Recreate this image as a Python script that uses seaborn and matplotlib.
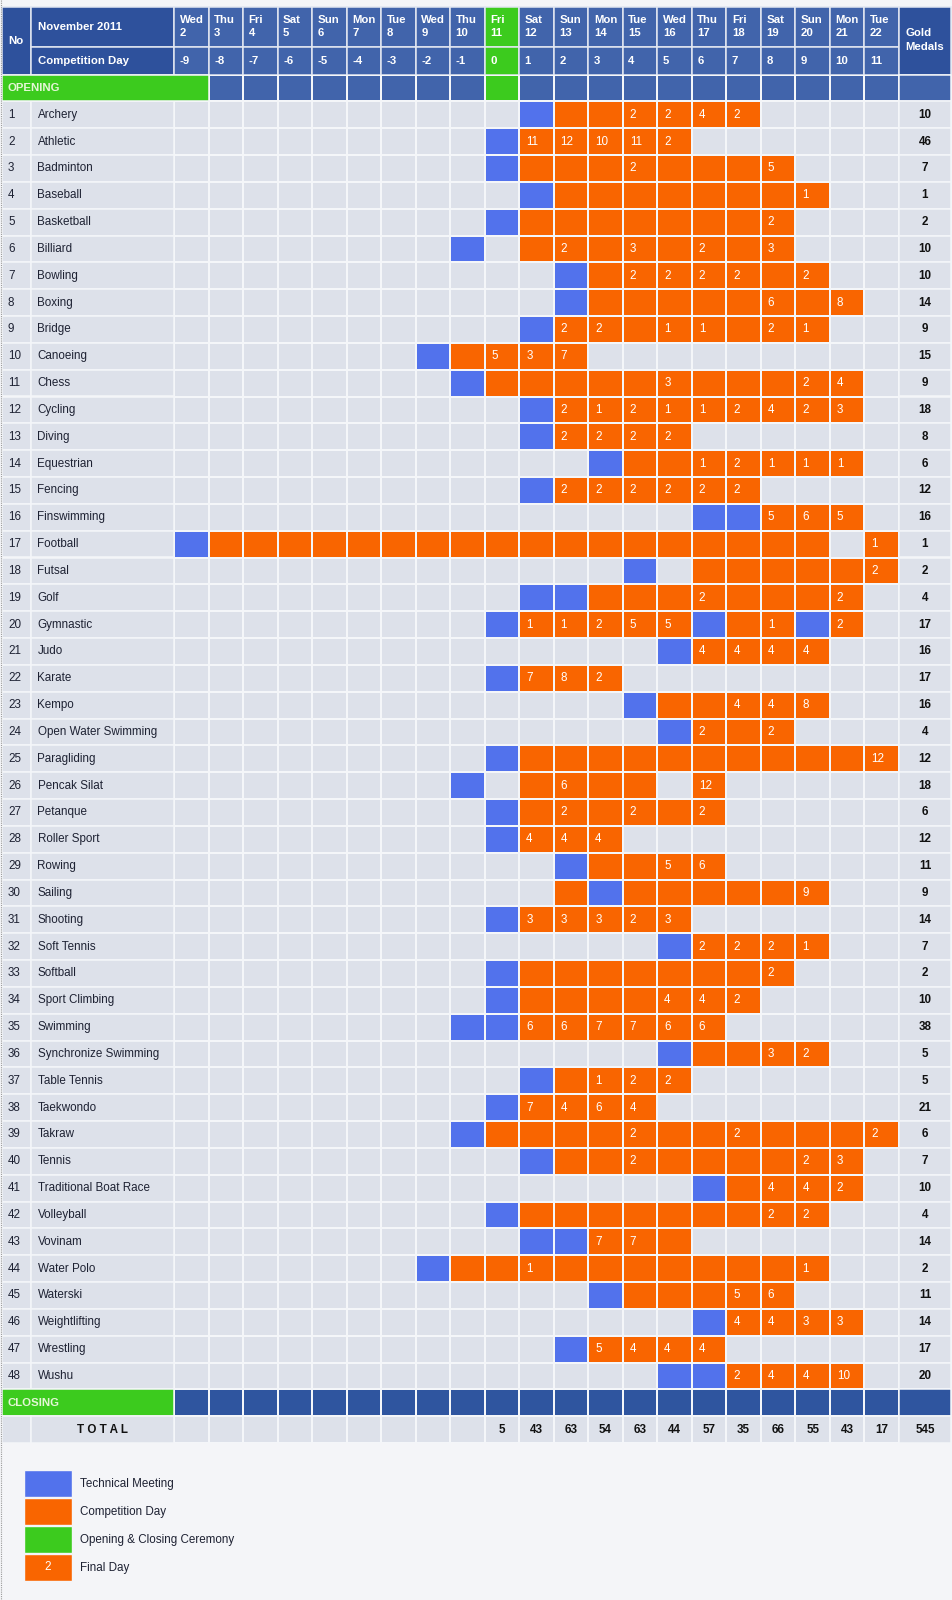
import numpy as np
import matplotlib
matplotlib.use("Agg")
import matplotlib.pyplot as plt
import seaborn as sns
from matplotlib.colors import ListedColormap
from matplotlib.patches import Rectangle

# ---------------- data ----------------
dates = list(range(2, 23))
weekdays = ["Wed", "Thu", "Fri", "Sat", "Sun", "Mon", "Tue", "Wed", "Thu", "Fri", "Sat",
            "Sun", "Mon", "Tue", "Wed", "Thu", "Fri", "Sat", "Sun", "Mon", "Tue"]
competition_day = list(range(-9, 12))
ceremony_date = 11

sports = ["Archery", "Athletic", "Badminton", "Baseball", "Basketball", "Billiard", "Bowling",
          "Boxing", "Bridge", "Canoeing", "Chess", "Cycling", "Diving", "Equestrian", "Fencing",
          "Finswimming", "Football", "Futsal", "Golf", "Gymnastic", "Judo", "Karate", "Kempo",
          "Open Water Swimming", "Paragliding", "Pencak Silat", "Petanque", "Roller Sport",
          "Rowing", "Sailing", "Shooting", "Soft Tennis", "Softball", "Sport Climbing",
          "Swimming", "Synchronize Swimming", "Table Tennis", "Taekwondo", "Takraw", "Tennis",
          "Traditional Boat Race", "Volleyball", "Vovinam", "Water Polo", "Waterski",
          "Weightlifting", "Wrestling", "Wushu"]

gold_medals = [10, 46, 7, 1, 2, 10, 10, 14, 9, 15, 9, 18, 8, 6, 12, 16, 1, 2, 4, 17, 16, 17, 16,
               4, 12, 18, 6, 12, 11, 9, 14, 7, 2, 10, 38, 5, 5, 21, 6, 7, 10, 4, 14, 2, 11, 14,
               17, 20]

technical_days = [[12], [11], [11], [12], [11], [10], [13], [13], [12], [9], [10], [12], [12],
                  [14], [12], [17, 18], [2], [15], [12, 13], [11, 17, 20], [16], [11], [15],
                  [16], [11], [10], [11], [11], [13], [14], [11], [16], [11], [11], [10, 11],
                  [16], [12], [11], [10], [12], [17], [11], [12, 13], [9], [14], [17], [13],
                  [16, 17]]

competition_spans = [[(13, 18)], [(12, 16)], [(12, 19)], [(13, 20)], [(12, 19)], [(12, 19)],
                     [(14, 20)], [(14, 21)], [(13, 20)], [(10, 13)], [(11, 21)], [(13, 21)],
                     [(13, 16)], [(15, 21)], [(13, 18)], [(19, 21)], [(3, 20), (22, 22)],
                     [(17, 22)], [(14, 21)], [(12, 16), (18, 19), (21, 21)], [(17, 20)],
                     [(12, 14)], [(16, 20)], [(17, 19)], [(12, 22)], [(12, 15), (17, 17)],
                     [(12, 17)], [(12, 14)], [(14, 17)], [(13, 13), (15, 20)], [(12, 16)],
                     [(17, 20)], [(12, 19)], [(12, 18)], [(12, 17)], [(17, 20)], [(13, 16)],
                     [(12, 15)], [(11, 22)], [(13, 21)], [(18, 21)], [(12, 20)], [(14, 16)],
                     [(10, 20)], [(15, 19)], [(18, 21)], [(14, 17)], [(18, 21)]]

final_days = [
    {15: 2, 16: 2, 17: 4, 18: 2},
    {12: 11, 13: 12, 14: 10, 15: 11, 16: 2},
    {15: 2, 19: 5},
    {20: 1},
    {19: 2},
    {13: 2, 15: 3, 17: 2, 19: 3},
    {15: 2, 16: 2, 17: 2, 18: 2, 20: 2},
    {19: 6, 21: 8},
    {13: 2, 14: 2, 16: 1, 17: 1, 19: 2, 20: 1},
    {11: 5, 12: 3, 13: 7},
    {16: 3, 20: 2, 21: 4},
    {13: 2, 14: 1, 15: 2, 16: 1, 17: 1, 18: 2, 19: 4, 20: 2, 21: 3},
    {13: 2, 14: 2, 15: 2, 16: 2},
    {17: 1, 18: 2, 19: 1, 20: 1, 21: 1},
    {13: 2, 14: 2, 15: 2, 16: 2, 17: 2, 18: 2},
    {19: 5, 20: 6, 21: 5},
    {22: 1},
    {22: 2},
    {17: 2, 21: 2},
    {12: 1, 13: 1, 14: 2, 15: 5, 16: 5, 19: 1, 21: 2},
    {17: 4, 18: 4, 19: 4, 20: 4},
    {12: 7, 13: 8, 14: 2},
    {18: 4, 19: 4, 20: 8},
    {17: 2, 19: 2},
    {22: 12},
    {13: 6, 17: 12},
    {13: 2, 15: 2, 17: 2},
    {12: 4, 13: 4, 14: 4},
    {16: 5, 17: 6},
    {20: 9},
    {12: 3, 13: 3, 14: 3, 15: 2, 16: 3},
    {17: 2, 18: 2, 19: 2, 20: 1},
    {19: 2},
    {16: 4, 17: 4, 18: 2},
    {12: 6, 13: 6, 14: 7, 15: 7, 16: 6, 17: 6},
    {19: 3, 20: 2},
    {14: 1, 15: 2, 16: 2},
    {12: 7, 13: 4, 14: 6, 15: 4},
    {15: 2, 18: 2, 22: 2},
    {15: 2, 20: 2, 21: 3},
    {19: 4, 20: 4, 21: 2},
    {19: 2, 20: 2},
    {14: 7, 15: 7},
    {12: 1, 20: 1},
    {18: 5, 19: 6},
    {18: 4, 19: 4, 20: 3, 21: 3},
    {14: 5, 15: 4, 16: 4, 17: 4},
    {18: 2, 19: 4, 20: 4, 21: 10},
]

total_dates = [11, 12, 13, 14, 15, 16, 17, 18, 19, 20, 21, 22]
total_values = [5, 43, 63, 54, 63, 44, 57, 35, 66, 55, 43, 17]
grand_total = 545

legend_labels = ["Technical Meeting", "Competition Day", "Opening & Closing Ceremony", "Final Day"]

# ---------------- style ----------------
sns.set_theme(style="white")
plt.rcParams["font.family"] = ["Liberation Sans", "DejaVu Sans"]

C_EMPTY = "#DDE1EA"
C_TECH = "#5272EC"
C_COMP = "#F96500"
C_GREEN = "#3CCB1E"
C_OPEN = "#4164AB"
C_CLOSE = "#2F559F"
C_HEAD = "#2E519C"
C_HDAY = "#4164AB"
C_GRID = "#F4F6F9"
C_HGRID = "#E2E7F1"
TXT = "#1E2233"
FS = 8.4
HFS = 8.2

W, H = 952, 1600
fig = plt.figure(figsize=(W / 100, H / 100), dpi=100, facecolor="#F4F5F8")

# layout (pixels)
x_no, x_name, x_day0, x_day1, x_gold1 = 2, 31, 174, 899, 951
n_days = len(dates)
day_w = (x_day1 - x_day0) / n_days
y_head0, y_head1, y_head2 = 7, 47, 74.5
y_grid1 = 1443
n_rows = len(sports) + 3
pitch = (y_grid1 - y_head2) / n_rows


def row_top(r):
    return y_head2 + r * pitch


def day_x(i):
    return x_day0 + i * day_w


# background axes in pixel coordinates
ax = fig.add_axes([0, 0, 1, 1])
ax.set_xlim(0, W)
ax.set_ylim(H, 0)
ax.axis("off")


def cell(a, x0, x1, y0, y1, fc, ec=C_GRID, lw=1.1, z=1):
    a.add_patch(Rectangle((x0, y0), x1 - x0, y1 - y0, facecolor=fc, edgecolor=ec,
                          linewidth=lw, zorder=z))


def htext(a, x, y, s, ha="left", color="white"):
    a.text(x, y, s, color=color, fontsize=HFS, ha=ha, va="center", fontweight="bold")


# ---- header ----
cell(ax, x_no, x_name, y_head0, y_head2, C_HEAD, C_HGRID)
htext(ax, x_no + 6, (y_head0 + y_head2) / 2, "No")
cell(ax, x_name, x_day0, y_head0, y_head1, C_HEAD, C_HGRID)
cell(ax, x_name, x_day0, y_head1, y_head2, C_HEAD, C_HGRID)
htext(ax, x_name + 6.5, (y_head0 + y_head1) / 2, "November 2011")
htext(ax, x_name + 6.5, (y_head1 + y_head2) / 2, "Competition Day")
for i, (wd, d, cd) in enumerate(zip(weekdays, dates, competition_day)):
    fc = C_GREEN if d == ceremony_date else C_HDAY
    x0, x1 = day_x(i), day_x(i + 1)
    cell(ax, x0, x1, y_head0, y_head1, fc, C_HGRID)
    cell(ax, x0, x1, y_head1, y_head2, fc, C_HGRID)
    htext(ax, x0 + 5.5, 20, wd)
    htext(ax, x0 + 5.5, 33.5, str(d))
    htext(ax, x0 + 5.5, (y_head1 + y_head2) / 2, str(cd))
cell(ax, x_day1, x_gold1, y_head0, y_head2, C_HEAD, C_HGRID)
htext(ax, x_day1 + 6, 33, "Gold")
htext(ax, x_day1 + 6, 47.5, "Medals")

# ---- left columns and gold column for body rows ----
cell(ax, x_day1, x_gold1, row_top(0), row_top(1), C_OPEN)
for k, (name, g) in enumerate(zip(sports, gold_medals)):
    r = k + 1
    y0, y1 = row_top(r), row_top(r + 1)
    yc = (y0 + y1) / 2
    cell(ax, x_no, x_name, y0, y1, C_EMPTY)
    cell(ax, x_name, x_day0, y0, y1, C_EMPTY)
    cell(ax, x_day1, x_gold1, y0, y1, C_EMPTY)
    ax.text(x_no + 6, yc, str(k + 1), color=TXT, fontsize=FS, ha="left", va="center")
    ax.text(x_name + 6.5, yc, name, color=TXT, fontsize=FS, ha="left", va="center")
    ax.text((x_day1 + x_gold1) / 2, yc, str(g), color="#111111", fontsize=FS, ha="center",
            va="center", fontweight="bold")
# closing row
rc = len(sports) + 1
cell(ax, x_no, x_day0, row_top(rc), row_top(rc + 1), C_GREEN)
cell(ax, x_day1, x_gold1, row_top(rc), row_top(rc + 1), C_CLOSE)
htext(ax, x_no + 6, (row_top(rc) + row_top(rc + 1)) / 2, "CLOSING", color="#E4F6D6")
# total row
rt = len(sports) + 2
yt0, yt1 = row_top(rt), row_top(rt + 1)
cell(ax, x_no, x_name, yt0, yt1, C_EMPTY)
cell(ax, x_name, x_day0, yt0, yt1, C_EMPTY)
cell(ax, x_day1, x_gold1, yt0, yt1, C_EMPTY)
ax.text((x_name + x_day0) / 2, (yt0 + yt1) / 2, "T O T A L", color="#111111", fontsize=FS,
        ha="center", va="center", fontweight="bold")
ax.text((x_day1 + x_gold1) / 2, (yt0 + yt1) / 2, str(grand_total), color="#111111",
        fontsize=FS, ha="center", va="center", fontweight="bold")

# ---- heatmap of days ----
codes = np.zeros((n_rows, n_days))
codes[0, :] = 4
codes[0, dates.index(ceremony_date)] = 3
for k in range(len(sports)):
    for a, b in competition_spans[k]:
        for d in range(a, b + 1):
            codes[k + 1, dates.index(d)] = 2
    for d in technical_days[k]:
        codes[k + 1, dates.index(d)] = 1
codes[rc, :] = 5

cmap = ListedColormap([C_EMPTY, C_TECH, C_COMP, C_GREEN, C_OPEN, C_CLOSE])
ax_hm = fig.add_axes([x_day0 / W, 1 - y_grid1 / H, (x_day1 - x_day0) / W,
                      (y_grid1 - y_head2) / H])
sns.heatmap(codes, ax=ax_hm, cmap=cmap, vmin=-0.5, vmax=5.5, cbar=False, linewidths=1.1,
            linecolor=C_GRID, xticklabels=False, yticklabels=False)
ax_hm.tick_params(length=0)
for k in range(len(sports)):
    for d, v in final_days[k].items():
        ax_hm.text(dates.index(d) + 0.2, k + 1.5, str(v), color="white", fontsize=FS,
                   ha="left", va="center")
for d, v in zip(total_dates, total_values):
    ax_hm.text(dates.index(d) + 0.5, rt + 0.5, str(v), color="#111111", fontsize=FS,
               ha="center", va="center", fontweight="bold")

# ---- top overlay: merged opening cell ----
ax_top = fig.add_axes([0, 0, 1, 1], facecolor="none")
ax_top.set_xlim(0, W)
ax_top.set_ylim(H, 0)
ax_top.axis("off")
cell(ax_top, x_no, day_x(1), row_top(0), row_top(1), C_GREEN)
htext(ax_top, x_no + 6, (row_top(0) + row_top(1)) / 2, "OPENING", color="#E4F6D6")
ax_top.plot([0.6, 0.6], [0, H], color="#9A9A9A", lw=0.8, ls=(0, (1, 1)))

# ---- legend ----
leg_colors = [C_TECH, C_COMP, C_GREEN, C_COMP]
leg_y = [1470, 1498, 1526, 1554]
for lab, c, y in zip(legend_labels, leg_colors, leg_y):
    cell(ax_top, 24, 72, y, y + 27, c, "#F4F5F8", 1.0)
    ax_top.text(80, y + 13.5, lab, color=TXT, fontsize=FS, ha="left", va="center")
ax_top.text(48, leg_y[-1] + 13.5, "2", color="white", fontsize=FS, ha="center", va="center")

fig.savefig("out.png", dpi=100, facecolor=fig.get_facecolor())
